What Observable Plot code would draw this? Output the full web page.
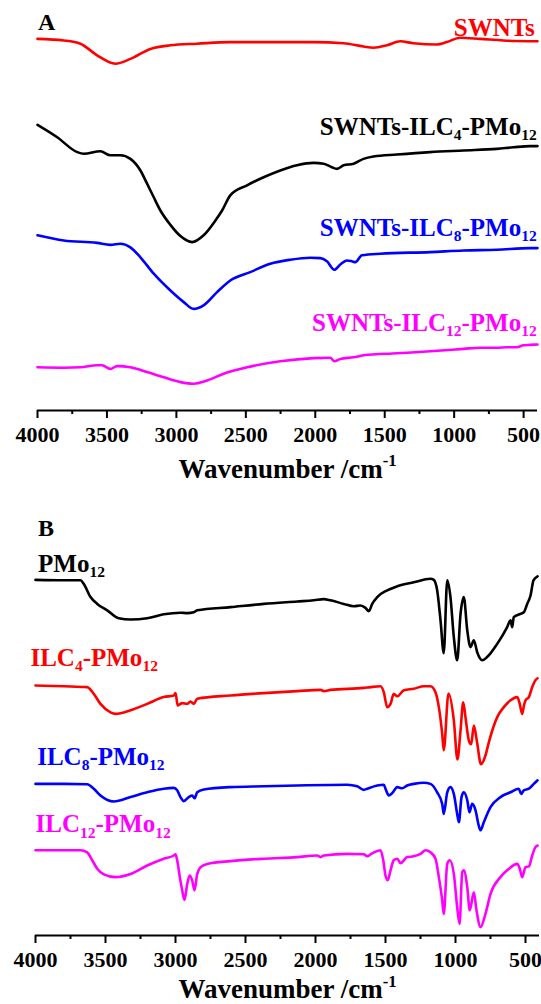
<!DOCTYPE html>
<html>
<head>
<meta charset="utf-8">
<script src="https://cdn.jsdelivr.net/npm/d3@7"></script>
<script src="https://cdn.jsdelivr.net/npm/@observablehq/plot@0.6"></script>
<style>
  html, body { margin: 0; padding: 0; background: #fff; }
  #chart svg { display: block; }
</style>
</head>
<body>
<div id="chart"></div>
<script>
// ---------------- Data ----------------
const majorTicks = [4000, 3500, 3000, 2500, 2000, 1500, 1000, 500];
const minorTicks = [3750, 3250, 2750, 2250, 1750, 1250, 750];
const axisTitle = "Wavenumber /cm^{-1}";

// Panel A
const wnA_SWNTs = [4000, 3811, 3691, 3571, 3439, 3331, 3187, 3043, 2851, 2612, 2372, 2012, 1796, 1653, 1581, 1484, 1388, 1293, 1124, 1053, 957, 813, 645, 400];
const tA_SWNTs  = [92.9, 92.5, 91.7, 88.8, 86.7, 87.9, 90.4, 91.3, 91.7, 92.1, 92.1, 92.1, 91.8, 91.0, 90.7, 91.3, 92.3, 91.8, 91.5, 92.1, 93.2, 92.9, 92.5, 92.3];

const wnA_C4 = [4000, 3858, 3714, 3667, 3547, 3475, 3403, 3331, 3259, 3211, 3163, 3115, 3043, 2971, 2887, 2804, 2719, 2671, 2612, 2491, 2372, 2252, 2132, 2012, 1940, 1880, 1844, 1796, 1724, 1653, 1581, 1412, 1173, 933, 693, 573, 453, 400];
const tA_C4  = [71.4, 68.3, 64.6, 64.2, 64.8, 63.8, 63.8, 62.9, 60.0, 56.7, 53.3, 50.0, 46.4, 43.6, 42.1, 43.8, 47.5, 50.0, 53.8, 56.3, 58.3, 60.0, 61.3, 61.9, 61.7, 60.8, 60.4, 61.3, 61.7, 62.9, 63.5, 64.0, 64.6, 65.0, 65.4, 65.8, 66.1, 66.1];

const wnA_C8 = [4000, 3811, 3571, 3475, 3403, 3331, 3259, 3163, 3043, 2947, 2876, 2804, 2707, 2612, 2468, 2324, 2180, 2036, 1964, 1916, 1863, 1820, 1772, 1736, 1712, 1664, 1532, 1173, 933, 693, 453, 400];
const tA_C8  = [43.8, 42.5, 41.9, 41.4, 41.7, 40.8, 38.3, 34.2, 30.0, 27.1, 25.4, 26.3, 29.6, 32.5, 34.6, 36.7, 37.7, 38.2, 38.1, 37.3, 35.2, 36.5, 37.5, 37.3, 37.1, 38.8, 39.2, 39.6, 40.0, 40.2, 40.6, 40.6];

const wnA_C12 = [4000, 3811, 3691, 3571, 3535, 3475, 3427, 3331, 3211, 3091, 2971, 2876, 2779, 2660, 2491, 2252, 2012, 1892, 1863, 1820, 1724, 1653, 1412, 1173, 933, 813, 693, 619, 549, 501, 453, 400];
const tA_C12  = [10.8, 10.7, 10.8, 11.3, 11.3, 10.4, 11.1, 10.8, 9.6, 8.3, 7.1, 6.7, 7.5, 9.2, 10.8, 12.3, 13.1, 13.2, 12.3, 12.9, 13.3, 13.8, 14.3, 14.8, 15.4, 15.7, 15.7, 15.8, 15.8, 16.3, 16.4, 16.5];

const namesA = ["SWNTs", "SWNTs-ILC_{4}-PMo_{12}", "SWNTs-ILC_{8}-PMo_{12}", "SWNTs-ILC_{12}-PMo_{12}"];

// Panel B
const wnB_PMo = [4000, 3798, 3679, 3655, 3607, 3559, 3488, 3405, 3321, 3202, 3084, 2964, 2916, 2869, 2845, 2607, 2369, 2131, 2012, 1941, 1893, 1798, 1726, 1679, 1643, 1619, 1595, 1559, 1488, 1416, 1298, 1179, 1155, 1131, 1107, 1084, 1059, 1036, 1012, 988, 964, 941, 916, 893, 869, 845, 809, 774, 702, 631, 607, 595, 584, 536, 512, 488, 464, 443, 414];
const tB_PMo  = [88.9, 88.8, 88.8, 87.9, 84.6, 82.9, 81.3, 79.3, 79.0, 79.3, 80.3, 80.7, 80.6, 80.8, 81.3, 82.1, 82.9, 83.5, 83.8, 84.1, 83.8, 82.9, 82.3, 82.5, 81.9, 81.1, 82.9, 84.6, 86.3, 87.3, 88.3, 89.2, 88.9, 86.3, 78.8, 70.6, 88.8, 84.6, 74.6, 68.8, 80.4, 84.6, 76.3, 72.1, 73.8, 70.8, 68.8, 69.6, 72.9, 77.1, 78.8, 77.1, 79.6, 80.4, 80.8, 82.9, 85.0, 88.8, 89.8];

const wnB_C4 = [4000, 3798, 3631, 3584, 3536, 3464, 3429, 3321, 3202, 3084, 3012, 3000, 2984, 2952, 2916, 2893, 2869, 2845, 2607, 2369, 2131, 1964, 1941, 1893, 1655, 1607, 1536, 1512, 1488, 1464, 1441, 1416, 1369, 1298, 1226, 1179, 1143, 1119, 1095, 1084, 1050, 1012, 986, 964, 945, 926, 905, 888, 869, 846, 818, 786, 762, 702, 655, 607, 559, 541, 524, 511, 500, 476, 452, 429, 414];
const tB_C4  = [62.5, 62.3, 62.1, 60.4, 57.9, 55.8, 55.4, 56.3, 57.9, 59.6, 60.0, 60.6, 57.5, 58.1, 57.9, 58.5, 57.9, 59.2, 60.0, 60.6, 61.1, 61.4, 61.1, 61.4, 61.9, 62.1, 62.3, 60.8, 57.1, 57.9, 60.4, 59.8, 61.3, 61.7, 62.3, 62.3, 60.8, 57.1, 50.4, 46.3, 60.5, 53.8, 44.0, 51.3, 58.3, 53.8, 48.8, 47.8, 52.5, 48.3, 42.8, 45.0, 48.3, 54.6, 57.1, 58.8, 59.6, 57.9, 55.4, 57.5, 58.8, 59.6, 62.1, 63.8, 64.3];

const wnB_C8 = [4000, 3798, 3631, 3584, 3536, 3441, 3321, 3202, 3084, 3012, 2988, 2964, 2941, 2905, 2881, 2864, 2845, 2798, 2607, 2369, 2131, 1774, 1702, 1655, 1631, 1559, 1512, 1500, 1476, 1452, 1416, 1381, 1345, 1298, 1226, 1179, 1131, 1095, 1084, 1059, 1036, 1012, 988, 976, 957, 941, 916, 900, 881, 857, 834, 821, 798, 750, 679, 607, 548, 531, 512, 476, 452, 429, 414];
const tB_C8  = [37.9, 37.9, 37.8, 36.7, 35.0, 33.5, 34.6, 35.8, 36.7, 36.9, 36.3, 34.6, 33.6, 34.6, 35.0, 34.3, 35.8, 36.5, 37.1, 37.3, 37.5, 37.7, 37.3, 36.4, 36.7, 37.5, 37.7, 36.7, 35.0, 35.6, 37.1, 36.8, 37.5, 37.9, 38.2, 37.9, 35.8, 32.9, 30.4, 35.8, 37.1, 35.4, 30.4, 28.3, 34.6, 35.8, 33.8, 30.8, 32.9, 31.3, 27.5, 26.3, 28.3, 32.1, 34.6, 35.8, 36.7, 35.4, 36.3, 36.7, 37.5, 38.3, 38.8];

const wnB_C12 = [4000, 3798, 3679, 3631, 3595, 3559, 3512, 3429, 3321, 3202, 3084, 3012, 3000, 2988, 2969, 2952, 2936, 2916, 2899, 2881, 2864, 2845, 2821, 2774, 2607, 2369, 2131, 1988, 1964, 1941, 1774, 1655, 1631, 1607, 1559, 1536, 1516, 1500, 1484, 1464, 1441, 1416, 1393, 1345, 1298, 1250, 1214, 1179, 1143, 1119, 1095, 1084, 1059, 1041, 1012, 988, 971, 952, 941, 916, 898, 869, 850, 821, 786, 750, 679, 631, 559, 541, 524, 500, 476, 452, 429, 414];
const tB_C12  = [21.3, 21.3, 21.3, 20.8, 18.8, 16.7, 15.3, 14.6, 15.4, 17.5, 19.2, 20.0, 20.3, 18.8, 14.6, 11.3, 8.9, 12.9, 15.0, 13.8, 11.3, 15.4, 17.1, 17.9, 18.6, 19.2, 19.6, 20.0, 19.6, 20.0, 20.4, 20.3, 19.8, 20.3, 21.1, 21.3, 18.8, 15.0, 13.8, 16.3, 18.8, 19.2, 18.1, 19.6, 19.8, 20.4, 21.3, 20.8, 19.2, 14.6, 8.8, 5.4, 17.9, 18.8, 15.4, 7.1, 2.9, 15.8, 16.3, 12.1, 6.3, 10.8, 6.3, 2.1, 5.4, 10.4, 14.6, 16.3, 17.9, 16.7, 14.6, 17.1, 17.3, 20.0, 22.1, 22.5];

const namesB = ["PMo_{12}", "ILC_{4}-PMo_{12}", "ILC_{8}-PMo_{12}", "ILC_{12}-PMo_{12}"];

// ---------------- Styles & layout ----------------
const colors = ["#000000", "#ff0000", "#0000ff", "#ff00ff"];
const colorsA = ["#ff0000", "#000000", "#0000ff", "#ff00ff"];
const fontFamily = "'Liberation Serif', 'Times New Roman', Times, serif";
const yDomain = [0, 100];

// annotation anchors (in data units)
const labelPosA = [[419, 95.6], [406, 71.0], [406, 45.75], [406, 22.0]];
const labelPosB = [[3982, 93.0], [4036, 69.5], [3988, 44.75], [4000, 27.8]];

function richText(svg) {
  const ns = "http://www.w3.org/2000/svg";
  svg.querySelectorAll("text").forEach(t => {
    const s = t.textContent;
    if (!/[_^]\{/.test(s)) return;
    const host = t.closest("[font-size]");
    const fs = host ? parseFloat(host.getAttribute("font-size")) : 16;
    t.textContent = "";
    let shift = 0;
    for (const p of s.split(/([_^]\{[^}]*\})/)) {
      if (!p) continue;
      const ts = document.createElementNS(ns, "tspan");
      let target = 0;
      if (p.startsWith("_{")) { ts.textContent = p.slice(2, -1); ts.setAttribute("font-size", fs * 0.62); target = fs * 0.22; }
      else if (p.startsWith("^{")) { ts.textContent = p.slice(2, -1); ts.setAttribute("font-size", fs * 0.62); target = -fs * 0.42; }
      else ts.textContent = p;
      if (target - shift !== 0) ts.setAttribute("dy", target - shift);
      shift = target;
      t.appendChild(ts);
    }
  });
  return svg;
}

function panel({wns, ts, names, cols, labelPos, textAnchor, letter, letterPos, titleDy, height, marginLeft, marginRight, marginTop, marginBottom}) {
  const marks = [];
  names.forEach((n, i) => {
    marks.push(Plot.line(d3.zip(wns[i], ts[i]), {
      x: d => d[0], y: d => d[1], stroke: cols[i], strokeWidth: 2.6,
      curve: "monotone-x", strokeLinejoin: "round", strokeLinecap: "round"
    }));
  });
  const labelRows = names.map((n, i) => ({text: n, x: labelPos[i][0], y: labelPos[i][1], fill: cols[i]}));
  marks.push(Plot.text(labelRows, {
    x: "x", y: "y", text: "text", fill: "fill", textAnchor,
    fontSize: 25, fontWeight: "bold", fontFamily, lineAnchor: "middle"
  }));
  marks.push(Plot.text([letter], {
    x: () => letterPos[0], y: () => letterPos[1], text: d => d, textAnchor: "start",
    fontSize: 24, fontWeight: "bold", fontFamily, lineAnchor: "middle", fill: "#000"
  }));
  marks.push(Plot.ruleY([yDomain[0]], {strokeWidth: 2.2, stroke: "#000"}));
  marks.push(Plot.axisX(minorTicks, {anchor: "bottom", tickSize: 4, tickFormat: () => "", strokeWidth: 2, label: null}));
  marks.push(Plot.axisX(majorTicks, {
    anchor: "bottom", tickSize: 8, tickPadding: 8, tickFormat: d3.format("d"), strokeWidth: 2,
    fontSize: 22, fontWeight: "bold", fontFamily, label: null, fill: "#000"
  }));
  marks.push(Plot.text([axisTitle], {
    frameAnchor: "bottom", dy: titleDy, text: d => d,
    fontSize: 27, fontWeight: "bold", fontFamily, lineAnchor: "middle", fill: "#000"
  }));
  const svg = Plot.plot({
    width: 541, height, marginLeft, marginRight, marginTop, marginBottom,
    x: {domain: [4000, 400], label: null},
    y: {domain: yDomain, axis: null},
    color: {type: "identity"},
    style: {background: "#fff", color: "#000", overflow: "hidden"},
    marks
  });
  return richText(svg);
}

const chart = document.getElementById("chart");
chart.appendChild(panel({
  wns: [wnA_SWNTs, wnA_C4, wnA_C8, wnA_C12],
  ts: [tA_SWNTs, tA_C4, tA_C8, tA_C12],
  names: namesA, cols: colorsA, labelPos: labelPosA, textAnchor: "end",
  letter: "A", letterPos: [3996, 97], titleDy: 58.4,
  height: 495, marginLeft: 37, marginRight: 4, marginTop: 10, marginBottom: 85
}));
chart.appendChild(panel({
  wns: [wnB_PMo, wnB_C4, wnB_C8, wnB_C12],
  ts: [tB_PMo, tB_C4, tB_C8, tB_C12],
  names: namesB, cols: colors, labelPos: labelPosB, textAnchor: "start",
  letter: "B", letterPos: [3982, 101.75], titleDy: 54,
  height: 509, marginLeft: 35, marginRight: 2, marginTop: 40, marginBottom: 69
}));
</script>
</body>
</html>
